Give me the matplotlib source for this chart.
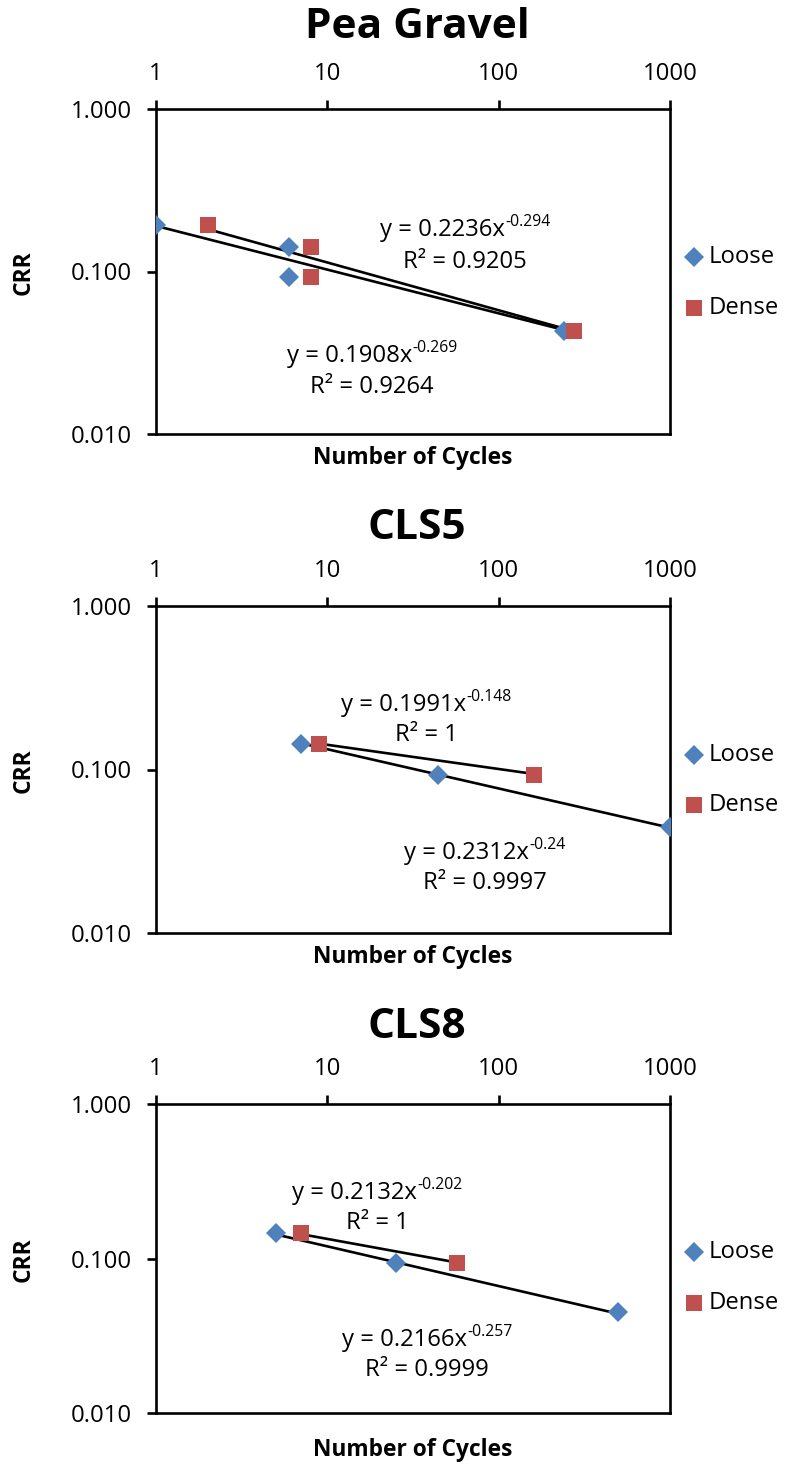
import matplotlib
matplotlib.use("Agg")
import matplotlib.pyplot as plt
import numpy as np
from matplotlib.lines import Line2D

plt.rcParams['font.family'] = ['Open Sans', 'DejaVu Sans']

# ---------------- data ----------------
titles = ["Pea Gravel", "CLS5", "CLS8"]

pg_loose_x = [1, 6, 6, 242]
pg_loose_y = [0.193, 0.1425, 0.093, 0.0432]
pg_dense_x = [2, 8, 8, 277]
pg_dense_y = [0.193, 0.1425, 0.093, 0.0432]

c5_loose_x = [7, 44, 1000]
c5_loose_y = [0.144, 0.093, 0.0442]
c5_dense_x = [9, 160]
c5_dense_y = [0.144, 0.093]

c8_loose_x = [5, 25, 500]
c8_loose_y = [0.146, 0.093, 0.0448]
c8_dense_x = [7, 57]
c8_dense_y = [0.146, 0.094]

# power-law trendline coefficients for y = a x^b: (a text, b text, R^2 text)
pg_loose_fit = ("0.1908", "-0.269", "0.9264")
pg_dense_fit = ("0.2236", "-0.294", "0.9205")
c5_loose_fit = ("0.2312", "-0.24", "0.9997")
c5_dense_fit = ("0.1991", "-0.148", "1")
c8_loose_fit = ("0.2166", "-0.257", "0.9999")
c8_dense_fit = ("0.2132", "-0.202", "1")

x_ticks = [1, 10, 100, 1000]
x_tick_labels = ["1", "10", "100", "1000"]
y_ticks = [0.01, 0.1, 1.0]
y_tick_labels = ["0.010", "0.100", "1.000"]

series_labels = ["Loose", "Dense"]
# --------------------------------------

W, H = 785, 1467
fig = plt.figure(figsize=(W / 100, H / 100), dpi=100)
renderer = fig.canvas.get_renderer()
BLUE = "#4F81BD"
RED = "#C0504D"


def fx(px):
    return px / W


def fy(py):
    return 1 - py / H


panels = [
    dict(title=titles[0], top=109, bottom=434, title_y=28, xlab_y=458,
         leg=(257, 308),
         loose=(pg_loose_x, pg_loose_y, pg_loose_fit),
         dense=(pg_dense_x, pg_dense_y, pg_dense_fit),
         dense_txt=(465, 227, 262), loose_txt=(372, 353, 387)),
    dict(title=titles[1], top=606, bottom=933, title_y=528, xlab_y=957,
         leg=(755, 805),
         loose=(c5_loose_x, c5_loose_y, c5_loose_fit),
         dense=(c5_dense_x, c5_dense_y, c5_dense_fit),
         dense_txt=(426, 702, 735), loose_txt=(485, 850, 883)),
    dict(title=titles[2], top=1104, bottom=1413, title_y=1027, xlab_y=1450,
         leg=(1252, 1303),
         loose=(c8_loose_x, c8_loose_y, c8_loose_fit),
         dense=(c8_dense_x, c8_dense_y, c8_dense_fit),
         dense_txt=(377, 1190, 1223), loose_txt=(427, 1337, 1370)),
]

LEFT, RIGHT = 156, 670
TXT = 17.2
FPX = TXT * 100 / 72


def equation(cx, cy, a, b):
    base_y = cy + 0.36 * FPX
    t_main = fig.text(0, 0, "y = %sx" % a, fontsize=TXT, va="baseline", ha="left")
    t_sup = fig.text(0, 0, b, fontsize=TXT * 0.66, va="baseline", ha="left")
    w1 = t_main.get_window_extent(renderer).width
    w2 = t_sup.get_window_extent(renderer).width
    x0 = cx - (w1 + w2) / 2
    t_main.set_position((fx(x0), fy(base_y)))
    t_sup.set_position((fx(x0 + w1 + 0.5), fy(base_y - 0.42 * FPX)))


for p in panels:
    ax = fig.add_axes([fx(LEFT), fy(p["bottom"]), fx(RIGHT - LEFT),
                       (p["bottom"] - p["top"]) / H])
    ax.set_xscale("log")
    ax.set_yscale("log")
    ax.set_xlim(1, 1000)
    ax.set_ylim(0.01, 1)
    ax.xaxis.tick_top()
    ax.set_xticks(x_ticks)
    ax.set_xticklabels(x_tick_labels)
    ax.set_yticks(y_ticks)
    ax.set_yticklabels(y_tick_labels)
    ax.minorticks_off()
    ax.tick_params(axis="both", which="major", direction="out", length=6.5,
                   width=1.9, labelsize=TXT, colors="black")
    ax.tick_params(axis="y", pad=11)
    ax.tick_params(axis="x", pad=10)
    for s in ax.spines.values():
        s.set_linewidth(1.9)
        s.set_color("black")

    # trendlines
    for (xs, ys, fit) in (p["loose"], p["dense"]):
        a, b = float(fit[0]), float(fit[1])
        xx = np.geomspace(min(xs), max(xs), 50)
        ax.plot(xx, a * xx ** b, color="black", lw=1.9, zorder=2,
                solid_capstyle="butt")

    lx, ly, _ = p["loose"]
    dx, dy, _ = p["dense"]
    ax.plot(lx, ly, linestyle="none", marker="D", ms=10, color=BLUE,
            markeredgewidth=0, zorder=3)
    ax.plot(dx, dy, linestyle="none", marker="s", ms=11.5, color=RED,
            markeredgewidth=0, zorder=3)

    # equation labels
    for key, tkey in (("dense", "dense_txt"), ("loose", "loose_txt")):
        a, b, r2 = p[key][2]
        cx, y1, y2 = p[tkey]
        equation(cx, y1, a, b)
        fig.text(fx(cx), fy(y2), "R² = %s" % r2, ha="center", va="center",
                 fontsize=TXT)

    fig.text(fx(417), fy(p["title_y"]), p["title"], ha="center", va="center",
             fontsize=30.5, fontweight="bold")
    fig.text(fx(413), fy(p["xlab_y"]), "Number of Cycles", ha="center",
             va="center", fontsize=16.4, fontweight="bold")
    fig.text(fx(24), fy((p["top"] + p["bottom"]) / 2 + 1), "CRR", ha="center",
             va="center", rotation=90, fontsize=16.5, fontweight="bold")

    # legend
    ly1, ly2 = p["leg"]
    fig.add_artist(Line2D([fx(694)], [fy(ly1)], marker="D", ms=10, color=BLUE,
                          markeredgewidth=0, transform=fig.transFigure))
    fig.add_artist(Line2D([fx(694)], [fy(ly2)], marker="s", ms=11.5, color=RED,
                          markeredgewidth=0, transform=fig.transFigure))
    fig.text(fx(709), fy(ly1), series_labels[0], ha="left", va="center",
             fontsize=TXT)
    fig.text(fx(709), fy(ly2), series_labels[1], ha="left", va="center",
             fontsize=TXT)

fig.savefig("out.png", dpi=100, facecolor="white")
